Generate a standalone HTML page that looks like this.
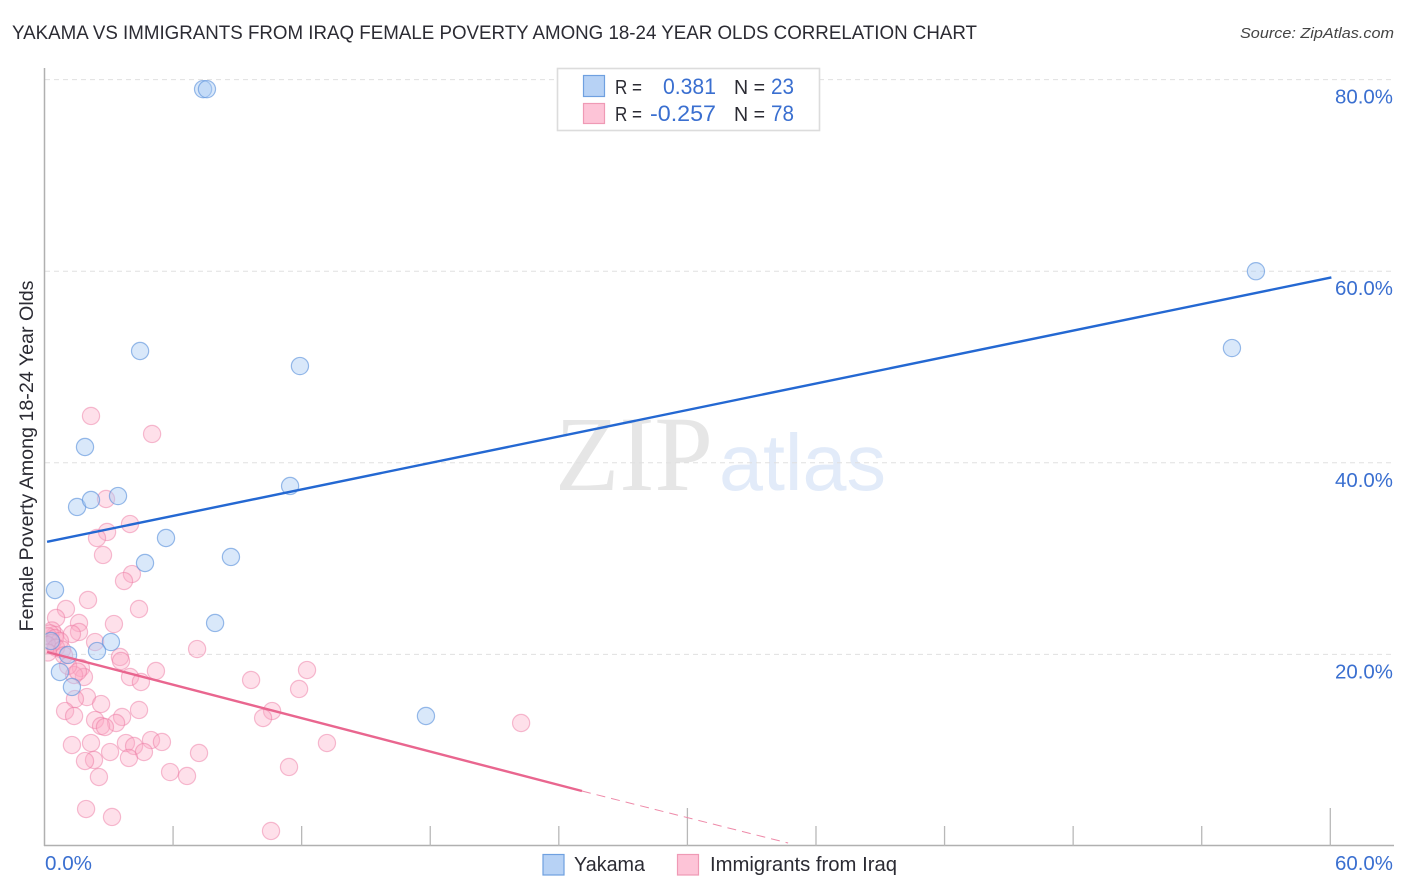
<!DOCTYPE html>
<html lang="en">
<head>
<meta charset="utf-8">
<title>Yakama vs Immigrants from Iraq correlation chart</title>
<style>
html,body{margin:0;padding:0;background:#fff;width:1406px;height:892px;overflow:hidden}
svg{display:block}
text{font-family:"Liberation Sans",sans-serif}
.val{fill:#3a6fd0}
.lab{fill:#2b2b33}
</style>
</head>
<body>
<svg id="chart" xmlns="http://www.w3.org/2000/svg" width="1406" height="892" viewBox="0 0 1406 892">
  <defs>
    <clipPath id="plotClip"><rect x="45.5" y="60" width="1350" height="786"/></clipPath>
  </defs>
  <text x="12" y="39" font-size="19" fill="#2b2b33" textLength="965" lengthAdjust="spacingAndGlyphs">YAKAMA VS IMMIGRANTS FROM IRAQ FEMALE POVERTY AMONG 18-24 YEAR OLDS CORRELATION CHART</text>
  <text x="1394" y="38" font-size="15" font-style="italic" fill="#444" text-anchor="end" textLength="154" lengthAdjust="spacingAndGlyphs">Source: ZipAtlas.com</text>

  <g>
    <text x="555" y="490" font-size="107" fill="#e6e6e6" textLength="158" lengthAdjust="spacingAndGlyphs" style="font-family:'Liberation Serif',serif">ZIP</text>
    <text x="719" y="490" font-size="80" fill="#e2ebf9" textLength="167" lengthAdjust="spacingAndGlyphs">atlas</text>
  </g>

  <g id="grid"></g>
  <g id="axes"></g>
  <g clip-path="url(#plotClip)">
    <g id="pointsPink"></g>
    <g id="pointsBlue"></g>
  </g>
  <g id="trends"></g>
  <g id="ticklabels"></g>

  <text transform="translate(33,456) rotate(-90)" font-size="19" fill="#2b2b33" text-anchor="middle" textLength="351" lengthAdjust="spacingAndGlyphs">Female Poverty Among 18-24 Year Olds</text>

  <g>
    <rect x="557.5" y="68.5" width="262" height="62" fill="#fff" stroke="#dcdcdc" stroke-width="1.6"/>
    <rect x="583.5" y="75.5" width="21" height="21" fill="#b7d2f5" stroke="#6fa0e0" stroke-width="1.2"/>
    <rect x="583.5" y="103.5" width="21" height="20" fill="#fdc4d7" stroke="#ef9ab5" stroke-width="1.2"/>
    <text class="lab" x="615" y="94" font-size="20" textLength="27" lengthAdjust="spacingAndGlyphs">R =</text>
    <text class="val" x="663" y="94" font-size="22" textLength="53" lengthAdjust="spacingAndGlyphs">0.381</text>
    <text class="lab" x="734" y="94" font-size="20" textLength="31" lengthAdjust="spacingAndGlyphs">N =</text>
    <text class="val" x="771" y="94" font-size="22" textLength="23" lengthAdjust="spacingAndGlyphs">23</text>
    <text class="lab" x="615" y="121" font-size="20" textLength="27" lengthAdjust="spacingAndGlyphs">R =</text>
    <text class="val" x="650" y="121" font-size="22" textLength="66" lengthAdjust="spacingAndGlyphs">-0.257</text>
    <text class="lab" x="734" y="121" font-size="20" textLength="31" lengthAdjust="spacingAndGlyphs">N =</text>
    <text class="val" x="771" y="121" font-size="22" textLength="23" lengthAdjust="spacingAndGlyphs">78</text>
  </g>

  <g>
    <rect x="543" y="854.5" width="21" height="20.5" fill="#b7d2f5" stroke="#6fa0e0" stroke-width="1.2"/>
    <text class="lab" x="574" y="871" font-size="20" textLength="71" lengthAdjust="spacingAndGlyphs">Yakama</text>
    <rect x="677.5" y="854.5" width="21" height="20.5" fill="#fdc4d7" stroke="#ef9ab5" stroke-width="1.2"/>
    <text class="lab" x="710" y="871" font-size="20" textLength="187" lengthAdjust="spacingAndGlyphs">Immigrants from Iraq</text>
  </g>
</svg>
<script>
// Data
var yTickValues = [20, 40, 60, 80];
var yTickLabels = ['20.0%', '40.0%', '60.0%', '80.0%'];
var xTickValues = [0, 6, 12, 18, 24, 30, 36, 42, 48, 54, 60];
var xEndLabels = ['0.0%', '60.0%'];
var yakamaX = [7.40, 7.58, 56.53, 55.41, 4.46, 11.92, 1.89, 1.52, 2.17, 3.43, 11.46, 5.67, 4.69, 8.70, 0.49, 7.96, 3.10, 2.45, 1.10, 0.72, 1.28, 17.80, 0.30];
var yakamaY = [79.0, 79.0, 60.0, 51.98, 51.67, 50.1, 41.65, 35.39, 36.12, 36.53, 37.58, 32.15, 29.54, 30.17, 26.72, 23.28, 21.29, 20.35, 19.94, 18.16, 16.60, 13.57, 21.40];
var iraqX = [2.17, 5.02, 2.87, 3.99, 2.92, 2.45, 2.73, 4.08, 3.71, 2.03, 4.41, 1.00, 0.54, 1.61, 3.24, 1.61, 1.28, 0.49, 2.36, 7.12, 3.52, 3.57, 1.70, 5.20, 12.25, 9.64, 11.88, 3.99, 4.50, 1.84, 1.38, 1.98, 1.42, 2.64, 4.41, 0.96, 1.38, 3.62, 10.62, 10.20, 2.36, 3.34, 2.64, 2.82, 4.97, 5.48, 3.80, 4.18, 2.17, 1.28, 13.18, 3.06, 4.64, 3.94, 7.21, 2.31, 1.89, 5.86, 6.65, 11.41, 2.54, 1.94, 3.15, 10.57, 22.24, 0.35, 0.25, 0.16, 0.49, 0.72, 0.35, 0.12, 0.54, 0.82, 0.16, 0.91, 1.10, 1.56];
var iraqY = [44.89, 43.01, 36.22, 33.61, 32.78, 32.15, 30.38, 28.39, 27.66, 25.68, 24.74, 24.74, 23.80, 23.28, 23.17, 22.34, 22.13, 22.03, 21.29, 20.56, 19.73, 19.31, 18.58, 18.27, 18.37, 17.33, 16.39, 17.64, 17.12, 17.64, 17.85, 15.55, 15.34, 14.82, 14.20, 14.09, 13.57, 13.47, 14.09, 13.36, 13.15, 12.84, 12.53, 12.42, 11.06, 10.86, 10.75, 10.44, 10.75, 10.54, 10.75, 9.81, 9.81, 9.19, 9.71, 8.98, 8.87, 7.72, 7.31, 8.25, 7.20, 3.86, 3.03, 1.57, 12.84, 22.5, 22.2, 21.9, 21.7, 21.4, 21.2, 21.0, 20.7, 20.5, 20.2, 19.9, 18.8, 18.2];
var yakamaTrendX = [0.12, 60.05];
var yakamaTrendY = [31.75, 59.35];
var iraqTrendX = [0.12, 25.08];
var iraqTrendY = [20.25, 5.74];
var iraqDashX = [25.08, 34.7];
var iraqDashY = [5.74, 0.31];

// Axis functions
function xScale(v) { return 44.5 + v * 21.43; }
function yScale(v) { return 846 - v * 9.58; }

var NS = 'http://www.w3.org/2000/svg';
function make(tag, parentId, attrs) {
  var el = document.createElementNS(NS, tag);
  for (var k in attrs) { el.setAttribute(k, attrs[k]); }
  document.getElementById(parentId).appendChild(el);
  return el;
}

yTickValues.forEach(function (v, i) {
  var g = make('line', 'grid', { x1: 45, x2: 1394, y1: yScale(v), y2: yScale(v), stroke: '#e0e0e0', 'stroke-width': 1, 'stroke-dasharray': '5 4' });
  
  
  var t = make('text', 'ticklabels', { x: 1393, y: yScale(v) + 24, 'font-size': 20, 'text-anchor': 'end', textLength: 58, lengthAdjust: 'spacingAndGlyphs', 'class': 'val' });
  t.textContent = yTickLabels[i];
  
  
});

var yAxis = make('line', 'axes', { x1: 44.5, x2: 44.5, y1: 68, y2: 846, stroke: '#b0b0b0', 'stroke-width': 1.5 });


var xAxis = make('line', 'axes', { x1: 44, x2: 1394, y1: 845.5, y2: 845.5, stroke: '#b0b0b0', 'stroke-width': 1.5 });



xTickValues.slice(1).forEach(function (v) {
  var tall = (v === 30 || v === 60);
  var tk = make('line', 'axes', { x1: xScale(v), x2: xScale(v), y1: tall ? 808 : 826, y2: 846, stroke: '#b8b8b8', 'stroke-width': 1.3 });
  
  
});

var xl0 = make('text', 'ticklabels', { x: 45, y: 870, 'font-size': 20, textLength: 47, lengthAdjust: 'spacingAndGlyphs', 'class': 'val' });
xl0.textContent = xEndLabels[0];


var xl1 = make('text', 'ticklabels', { x: 1393, y: 870, 'font-size': 20, 'text-anchor': 'end', textLength: 58, lengthAdjust: 'spacingAndGlyphs', 'class': 'val' });
xl1.textContent = xEndLabels[1];



iraqX.forEach(function (v, i) {
  var c = make('circle', 'pointsPink', { cx: xScale(v), cy: yScale(iraqY[i]), r: 8.6, fill: 'rgba(251,170,197,0.36)', stroke: 'rgba(236,120,160,0.48)', 'stroke-width': 1.2 });
  
  
});
yakamaX.forEach(function (v, i) {
  var c = make('circle', 'pointsBlue', { cx: xScale(v), cy: yScale(yakamaY[i]), r: 8.6, fill: 'rgba(170,203,243,0.45)', stroke: 'rgba(90,145,220,0.62)', 'stroke-width': 1.2 });
  
  
});

var blueLine = make('line', 'trends', { x1: xScale(yakamaTrendX[0]), y1: yScale(yakamaTrendY[0]), x2: xScale(yakamaTrendX[1]), y2: yScale(yakamaTrendY[1]), stroke: '#2468d2', 'stroke-width': 2.4 });


var pinkLine = make('line', 'trends', { x1: xScale(iraqTrendX[0]), y1: yScale(iraqTrendY[0]), x2: xScale(iraqTrendX[1]), y2: yScale(iraqTrendY[1]), stroke: '#e9668f', 'stroke-width': 2.4 });


var pinkDash = make('line', 'trends', { x1: xScale(iraqDashX[0]), y1: yScale(iraqDashY[0]), x2: xScale(iraqDashX[1]), y2: yScale(iraqDashY[1]), stroke: '#ee8aa9', 'stroke-width': 1, 'stroke-dasharray': '9 6' });


</script>
</body>
</html>
